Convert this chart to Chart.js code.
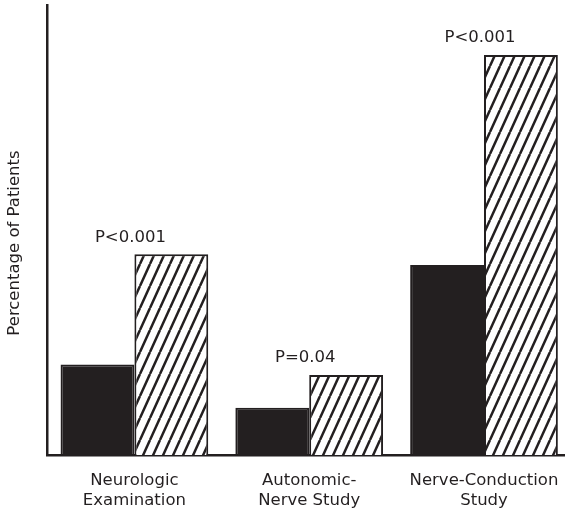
<!DOCTYPE html>
<html>
<head>
<meta charset="utf-8">
<script src="https://cdn.jsdelivr.net/npm/chart.js@4"></script>
<style>
  html, body { margin: 0; padding: 0; background: #fff; overflow: hidden; }
  #wrap { width: 565px; height: 511px; overflow: hidden; }
  #wrap canvas { display: block; }
</style>
</head>
<body>
<div id="wrap"><canvas id="c" width="575" height="511"></canvas></div>
<script>
// Categories (two-line tick labels) and the two series, in percent of patients
const categories = [
  ['Neurologic', 'Examination'],
  ['Autonomic-', 'Nerve Study'],
  ['Nerve-Conduction', 'Study']
];
const groupA = [20.1, 10.5, 42.2];
const groupB = [44.6, 17.8, 88.9];
const pLabels = ['P<0.001', 'P=0.04', 'P<0.001'];
const yTitle = 'Percentage of Patients';

const INK = '#231f20';
const FONT = '"DejaVu Sans", Verdana, sans-serif';

// Diagonal hatch fill for the second series
function makeHatch() {
  const w = 10, h = 22;
  const t = document.createElement('canvas');
  t.width = w; t.height = h;
  const g = t.getContext('2d');
  g.fillStyle = '#fff';
  g.fillRect(0, 0, w, h);
  g.strokeStyle = INK;
  g.lineWidth = 2.5;
  for (const x0 of [-w, 0, w]) {
    g.beginPath();
    g.moveTo(x0, h);
    g.lineTo(x0 + w, 0);
    g.stroke();
  }
  return g.createPattern(t, 'repeat');
}

const ctx = document.getElementById('c').getContext('2d');
const hatch = makeHatch();

// P-value annotations above each pair of bars
const pValuePlugin = {
  id: 'pValues',
  afterDatasetsDraw(chart) {
    const c = chart.ctx;
    const xs = chart.scales.x;
    const meta = chart.getDatasetMeta(1);
    c.save();
    c.fillStyle = INK;
    c.font = '16.5px ' + FONT;
    c.textAlign = 'center';
    c.textBaseline = 'middle';
    pLabels.forEach((txt, i) => {
      const x = xs.getPixelForValue(i) - 4;
      const y = meta.data[i].y - 17;
      c.fillText(txt, x, y);
    });
    c.restore();
  }
};

// Rotated y-axis title
const yTitlePlugin = {
  id: 'yTitle',
  afterDraw(chart) {
    const c = chart.ctx;
    c.save();
    c.fillStyle = INK;
    c.font = '16.5px ' + FONT;
    c.textAlign = 'center';
    c.textBaseline = 'middle';
    c.translate(15, 243);
    c.rotate(-Math.PI / 2);
    c.fillText(yTitle, 0, 0);
    c.restore();
  }
};

new Chart(ctx, {
  type: 'bar',
  data: {
    labels: categories,
    datasets: [
      {
        label: 'Group 1',
        data: groupA,
        backgroundColor: INK,
        borderColor: INK,
        borderWidth: 2,
        categoryPercentage: 0.845,
        barPercentage: 1.0
      },
      {
        label: 'Group 2',
        data: groupB,
        backgroundColor: hatch,
        borderColor: INK,
        borderWidth: 2,
        categoryPercentage: 0.845,
        barPercentage: 1.0
      }
    ]
  },
  options: {
    responsive: false,
    animation: false,
    layout: { padding: { left: 47, right: 3.5, top: 5, bottom: 1.5 } },
    plugins: {
      legend: { display: false },
      tooltip: { enabled: false }
    },
    scales: {
      x: {
        grid: { display: false, drawTicks: false },
        border: { display: true, color: INK, width: 2.5 },
        afterFit(scale) { scale.height = 54.5; },
        ticks: {
          color: INK,
          font: { family: FONT, size: 16.5, lineHeight: 1.2 },
          padding: 16,
          maxRotation: 0,
          autoSkip: false
        }
      },
      y: {
        min: 0,
        max: 100,
        grid: { display: false, drawTicks: false },
        border: { display: true, color: INK, width: 2.5 },
        ticks: { display: false }
      }
    }
  },
  plugins: [pValuePlugin, yTitlePlugin]
});
</script>
</body>
</html>
